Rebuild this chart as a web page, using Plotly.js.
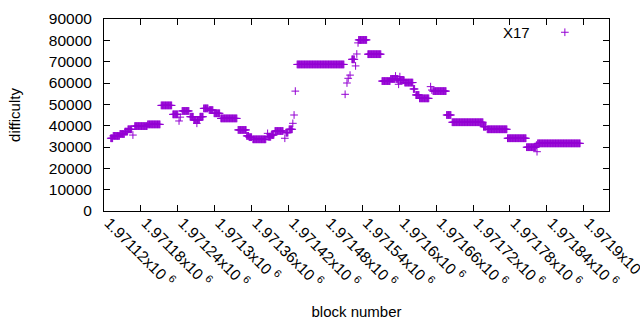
<!DOCTYPE html>
<html><head><meta charset="utf-8">
<script src="https://cdn.plot.ly/plotly-3.0.1.min.js"></script>
<style>html,body{margin:0;padding:0;background:#fff;}#chart{width:640px;height:330px;}</style>
</head><body><div id="chart"></div>
<script>
// Difficulty is constant over runs of consecutive blocks: first block, last block, difficulty
const runFirst = [1971131,1971135,1971146,1971154,1971159,1971167,1971170,1971191,1971213,1971232,
  1971242,1971244,1971247,1971260,1971266,1971271,1971272,1971276,1971282,1971291,
  1971299,1971310,1971338,1971352,1971356,1971362,1971385,1971386,1971387,1971392,
  1971398,1971414,1971416,1971421,1971427,1971429,1971431,1971434,1971512,1971515,
  1971517,1971520,1971523,1971529,1971531,1971533,1971534,1971549,1971572,1971586,
  1971594,1971595,1971598,1971599,1971600,1971601,1971602,1971609,1971623,1971627,
  1971633,1971651,1971653,1971655,1971677,1971686,1971737,1971743,1971776,1971807,
  1971823,1971824,1971825];
const runLast = [1971134,1971145,1971153,1971158,1971165,1971167,1971190,1971211,1971230,1971240,
  1971242,1971244,1971258,1971265,1971270,1971271,1971275,1971281,1971289,1971297,
  1971308,1971336,1971351,1971355,1971360,1971383,1971385,1971386,1971391,1971396,
  1971411,1971414,1971419,1971426,1971427,1971429,1971431,1971510,1971512,1971515,
  1971517,1971520,1971527,1971529,1971531,1971533,1971547,1971570,1971585,1971593,
  1971594,1971597,1971598,1971599,1971600,1971601,1971608,1971622,1971625,1971632,
  1971648,1971651,1971653,1971676,1971684,1971736,1971741,1971775,1971806,1971822,
  1971823,1971824,1971894];
const runDifficulty = [34100,35200,36100,37200,38300,35600,39800,40600,49500,45300,
  42200,44000,46900,44200,42700,41100,42700,44200,48100,47300,
  45800,43400,38000,35200,34600,33600,34800,36400,34800,35600,
  37500,34100,36700,38300,41100,45000,56200,68700,54700,60000,
  62200,63700,71100,68000,73600,78800,80200,73500,60900,61900,
  63300,61900,61300,59400,61300,63000,61300,60200,57200,54400,
  52800,58300,56700,56200,45000,41600,39500,38300,34100,29900,
  30900,27800,31700];

const xTickVals = [1971120,1971180,1971240,1971300,1971360,1971420,1971480,1971540,1971600,1971660,1971720,1971780,1971840,1971900];
const xTickLabels = ['1.97112x10 <sup>6</sup>','1.97118x10 <sup>6</sup>','1.97124x10 <sup>6</sup>','1.9713x10 <sup>6</sup>',
  '1.97136x10 <sup>6</sup>','1.97142x10 <sup>6</sup>','1.97148x10 <sup>6</sup>','1.97154x10 <sup>6</sup>',
  '1.9716x10 <sup>6</sup>','1.97166x10 <sup>6</sup>','1.97172x10 <sup>6</sup>','1.97178x10 <sup>6</sup>',
  '1.97184x10 <sup>6</sup>','1.9719x10 <sup>6</sup>'];
const yTickVals = [0,10000,20000,30000,40000,50000,60000,70000,80000,90000];
const yTickLabels = ['0','10000','20000','30000','40000','50000','60000','70000','80000','90000'];
const seriesName = 'X17';

const blocks = [], difficulty = [];
for (let i = 0; i < runFirst.length; i++) {
  for (let b = runFirst[i]; b <= runLast[i]; b++) { blocks.push(b); difficulty.push(runDifficulty[i]); }
}

const purple = '#9400d3';
const font = {family: 'Liberation Sans, Arial, sans-serif', size: 15, color: '#000'};
const tickFont = {family: 'Liberation Sans, Arial, sans-serif', size: 15.5, color: '#000'};

const trace = {
  type: 'scatter', mode: 'markers', x: blocks, y: difficulty, name: '',
  marker: {symbol: 'cross-thin-open', size: 5.5, color: purple, line: {color: purple, width: 1}},
  showlegend: true
};

const axisCommon = {
  showline: true, linecolor: '#000', linewidth: 1, mirror: 'ticks', ticks: 'inside',
  ticklen: 6, tickcolor: '#000', showgrid: false, zeroline: false, tickfont: tickFont
};

const layout = {
  width: 640, height: 330,
  margin: {l: 104, r: 31, t: 19, b: 119},
  paper_bgcolor: '#fff', plot_bgcolor: '#fff',
  font: font,
  xaxis: Object.assign({}, axisCommon, {
    range: [1971120, 1971941], tickmode: 'array', tickvals: xTickVals, ticktext: xTickLabels,
    tickangle: 45, ticklabelstandoff: -4, ticklabelshift: 5, ticklabeloverflow: 'allow',
    title: {text: 'block number', font: font, standoff: 16}
  }),
  yaxis: Object.assign({}, axisCommon, {
    range: [0, 90000], tickmode: 'array', tickvals: yTickVals, ticktext: yTickLabels,
    ticklabelstandoff: 8,
    title: {text: 'difficulty', font: font, standoff: 24}
  }),
  legend: {
    x: 0.873, y: 1.0156, xanchor: 'left', yanchor: 'top',
    bgcolor: 'rgba(0,0,0,0)', font: font
  },
  annotations: [{
    text: seriesName, xref: 'paper', yref: 'paper', x: 0.8475, y: 0.932,
    xanchor: 'right', yanchor: 'middle', showarrow: false, font: font
  }]
};

Plotly.newPlot('chart', [trace], layout, {staticPlot: true, displayModeBar: false});
</script>
</body></html>
